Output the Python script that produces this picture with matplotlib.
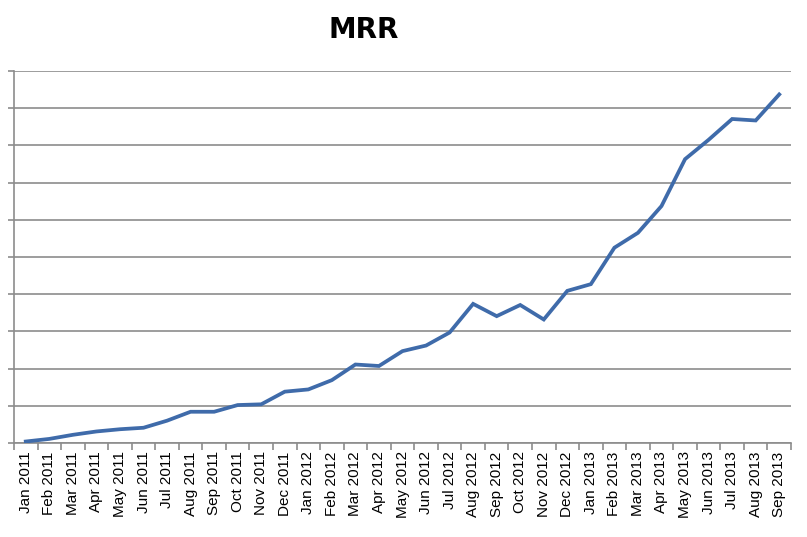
import matplotlib

matplotlib.use("Agg")
import matplotlib.pyplot as plt
import numpy as np

months = ["Jan", "Feb", "Mar", "Apr", "May", "Jun",
          "Jul", "Aug", "Sep", "Oct", "Nov", "Dec"]
labels = [f"{m} {y}" for y in (2011, 2012, 2013) for m in months][:33]

# MRR (y axis unlabelled in the source, units of one gridline step)
mrr = [0.04, 0.11, 0.22, 0.31, 0.37, 0.41, 0.60, 0.84, 0.84, 1.02, 1.04,
       1.38, 1.44, 1.69, 2.11, 2.07, 2.47, 2.62, 2.97, 3.74, 3.41, 3.71,
       3.32, 4.09, 4.27, 5.25, 5.65, 6.37, 7.63, 8.15, 8.71, 8.67, 9.37]

LINE = "#3F6BAA"
GRID = "#8C8C8C"

fig = plt.figure(figsize=(8.07, 5.37), dpi=100)
ax = fig.add_axes([14 / 807, 94 / 537, 777 / 807, 372 / 537])

x = np.arange(len(mrr))
ax.plot(x, mrr, color=LINE, linewidth=2.7, solid_joinstyle="miter", zorder=3)

ax.set_xlim(-0.5, len(mrr) - 0.5)
ax.set_ylim(0, 10)
ax.set_yticks(np.arange(0, 11))
ax.set_yticklabels([])
ax.grid(axis="y", color=GRID, linewidth=1.2)
ax.set_axisbelow(True)

ax.set_xticks(x)
ax.set_xticklabels(labels, rotation=90, fontsize=11, family="Liberation Sans")
ax.set_xticks(np.arange(-0.5, len(mrr)), minor=True)
ax.tick_params(axis="x", which="major", length=0, pad=6)
ax.tick_params(axis="x", which="minor", length=5, color=GRID, width=1.2)
ax.tick_params(axis="y", length=4, color=GRID, width=1.2)

for s in ("top", "right"):
    ax.spines[s].set_visible(False)
for s in ("left", "bottom"):
    ax.spines[s].set_color(GRID)
    ax.spines[s].set_linewidth(1.2)

fig.text(364 / 807, 1 - 30 / 537, "MRR", ha="center", va="center",
         fontsize=20, fontweight="bold")

fig.savefig("out.png", dpi=100)
